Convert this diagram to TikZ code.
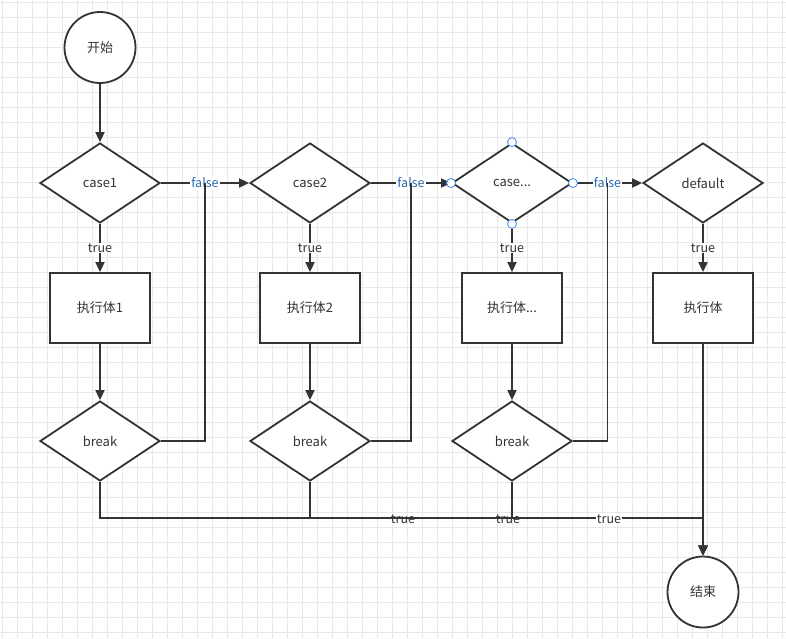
\documentclass[tikz,border=0pt]{standalone}
\usepackage{fontspec}
\setmainfont{Noto Sans CJK SC}
\usetikzlibrary{shapes.geometric,arrows.meta,calc}
\definecolor{ln}{HTML}{333333}
\definecolor{gridc}{HTML}{E8E8E8}
\definecolor{fl}{HTML}{2A6AB0}
\definecolor{hd}{HTML}{3B8BEB}
\begin{document}
\begin{tikzpicture}[x=1pt,y=-1pt,
  font=\fontsize{13}{15}\selectfont,
  proc/.style={draw=ln,line width=1.8pt,fill=white,text=ln,minimum width=100pt,minimum height=70pt,inner sep=0pt},
  dec/.style={diamond,draw=ln,line width=1.8pt,fill=white,text=ln,minimum width=120pt,minimum height=80pt,inner sep=0pt},
  term/.style={circle,draw=ln,line width=1.8pt,fill=white,text=ln,minimum size=71pt,inner sep=0pt},
  edge/.style={draw=ln,line width=1.8pt},
  arr/.style={edge,-{Triangle[length=10pt,width=9pt]}},
  lbl/.style={fill=white,inner sep=1pt,text=ln,font=\fontsize{12.5}{14}\selectfont},
  lblf/.style={lbl,text=fl},
  lbln/.style={inner sep=1pt,text=ln,font=\fontsize{12.5}{14}\selectfont},
  handle/.style={circle,draw=hd,fill=white,line width=0.8pt,minimum size=9pt,inner sep=0pt}]
\fill[white] (0,0) rectangle (786,638);
\useasboundingbox (0,0) rectangle (786,638);
\foreach \i in {0,...,52} \draw[gridc,line width=0.9pt] ({2.7+15*\i},0) -- ({2.7+15*\i},638);
\foreach \j in {0,...,42} \draw[gridc,line width=0.9pt] (0,{2.7+15*\j}) -- (786,{2.7+15*\j});

% nodes
\node[term] (start) at (100,47.5) {开始};
\node[dec] (c1) at (100,183) {case1};
\node[dec] (c2) at (310,183) {case2};
\node[dec] (c3) at (512,183) {case...};
\node[dec] (c4) at (703,183) {default};
\node[proc] (p1) at (100,308) {执行体1};
\node[proc] (p2) at (310,308) {执行体2};
\node[proc] (p3) at (512,308) {执行体...};
\node[proc] (p4) at (703,308) {执行体};
\node[dec] (k1) at (100,441) {break};
\node[dec] (k2) at (310,441) {break};
\node[dec] (k3) at (512,441) {break};
\node[term] (end) at (703,592) {结束};

% helper coordinates
\coordinate (m1) at ($(c1.east)!0.5!(c2.west)$);
\coordinate (m2) at ($(c2.east)!0.5!(c3.west)$);
\coordinate (m3) at ($(c3.east)!0.5!(c4.west)$);
\coordinate (busR) at (703,518);

% vertical flow
\draw[arr] (start) -- (c1);
\draw[arr] (c1) -- node[lbl]{true} (p1);
\draw[arr] (c2) -- node[lbl]{true} (p2);
\draw[arr] (c3) -- node[lbl]{true} (p3);
\draw[arr] (c4) -- node[lbl]{true} (p4);
\draw[arr] (p1) -- (k1);
\draw[arr] (p2) -- (k2);
\draw[arr] (p3) -- (k3);

% false edges
\draw[arr] (c1.east) -- node[lblf]{false} (c2.west);
\draw[arr] (c2.east) -- node[lblf]{false} (c3.west);
\draw[arr] (c3.east) -- node[lblf]{false} (c4.west);
\draw[edge] (k1.east) -| (m1);
\draw[edge] (k2.east) -| (m2);
\draw[edge] (k3.east) -| (m3);

% break true edges to end
\draw[arr] (k1.south) |- (busR) -- (end.north);
\draw[arr] (k2.south) |- (busR) -- (end.north);
\draw[arr] (k3.south) |- (busR) -- (end.north);
\draw[arr] (p4) -- (end);
\node[lbln] at (403,519) {true};
\node[lbln] at (508,519) {true};
\node[lbl] at (609,519) {true};

% handles on case...
\node[handle] (h1) at (c3.north) {};
\node[handle] (h2) at (c3.south) {};
\node[handle] (h3) at (c3.west) {};
\node[handle] (h4) at (c3.east) {};
\end{tikzpicture}
\end{document}
